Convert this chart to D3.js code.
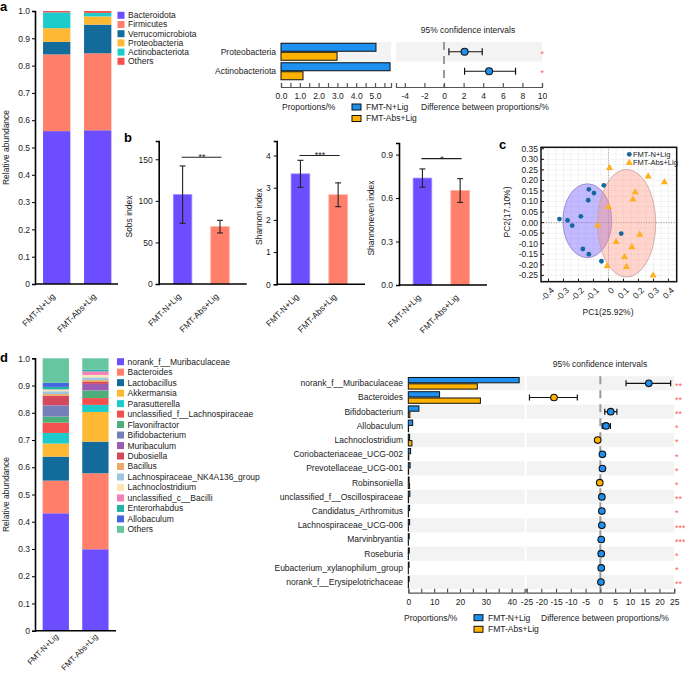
<!DOCTYPE html>
<html><head><meta charset="utf-8">
<script src="https://cdn.jsdelivr.net/npm/d3@7"></script>
<style>
body{margin:0;background:#fff;}
svg{font-family:"Liberation Sans",Arial,Helvetica,sans-serif;}
</style></head><body>
<svg id="c" width="685" height="673"></svg>
<script>
// ================= DATA =================
const groups = ["FMT-N+Lig","FMT-Abs+Lig"];

// a: phylum composition
const phylumNames = ["Bacteroidota","Firmicutes","Verrucomicrobiota","Proteobacteria","Actinobacteriota","Others"];
const phylumColors = ["#6c4dff","#ff7f6a","#136b9c","#ffb834","#1ccbcb","#f4504f"];
const phylumN   = [0.560,0.281,0.046,0.050,0.058,0.005];
const phylumAbs = [0.563,0.282,0.105,0.030,0.013,0.007];

// a: extended error bar
const extA_taxa   = ["Proteobacteria","Actinobacteriota"];
const extA_propN  = [5.05,5.80];
const extA_propAbs= [2.98,1.17];
const extA_diff   = [2.1,4.6];
const extA_lo     = [0.5,2.1];
const extA_hi     = [3.9,7.3];
const extA_sig    = ["*","*"];
const extA_propTicks = [0,0.5,1,1.5,2,2.5,3,3.5,4,4.5,5,5.5];
const extA_propLabels = [0,1,2,3,4,5];
const extA_diffTicks = [-4,-2,0,2,4,6,8,10];

// b: alpha diversity
const sobsMean = [107.5,69.0],  sobsErr = [34.5,7.6];
const shanMean = [3.43,2.78],   shanErr = [0.42,0.37];
const evenMean = [0.738,0.652], evenErr = [0.063,0.082];
const sobsTicks = [0,50,100,150], shanTicks = [0,1,2,3,4], evenTicks = [0,0.3,0.6,0.9];
const sobsSig = {label:"**", level:152.5};
const shanSig = {label:"***", level:4.0};
const evenSig = {label:"*", level:0.872};

// c: PCoA
const pcN_x = [-0.327,-0.273,-0.242,-0.184,-0.131,-0.097,-0.135,-0.031,-0.171,-0.131,-0.047,0.085];
const pcN_y = [0.017,0.011,-0.014,0.030,0.158,0.140,0.106,0.177,-0.125,-0.150,-0.183,-0.052];
const pcA_x = [0.007,0.265,0.373,0.178,0.163,0.000,-0.073,0.209,0.051,0.156,0.107,0.120,-0.009,0.298];
const pcA_y = [0.259,0.219,0.192,0.144,0.110,0.074,-0.013,-0.057,-0.092,-0.116,-0.163,-0.210,-0.206,-0.250];
const ellCx = [-0.141,0.121], ellCy = [0.009,-0.003], ellRx = [0.163,0.194], ellRy = [0.175,0.255];
const pcXTicks = [-0.4,-0.3,-0.2,-0.1,0,0.1,0.2,0.3,0.4];
const pcYTicks = [-0.25,-0.2,-0.15,-0.1,-0.05,0,0.05,0.1,0.15,0.2,0.25,0.3,0.35];

// d: genus composition
const genusNames = ["norank_f__Muribaculaceae","Bacteroides","Lactobacillus","Akkermansia","Parasutterella","unclassified_f__Lachnospiraceae","Flavonifractor","Bifidobacterium","Muribaculum","Dubosiella","Bacillus","Lachnospiraceae_NK4A136_group","Lachnoclostridium","unclassified_c__Bacilli","Enterorhabdus","Allobaculum","Others"];
const genusColors = ["#6c4dff","#ff7f6a","#136b9c","#ffb834","#1ccbcb","#f4504f","#4caf7a","#7580ba","#9b5bb0","#d4485e","#eea86a","#9ec6de","#ffe5b5","#f47fb8","#22b2a6","#4466e0","#66c6a0"];
const genusN   = [0.431,0.120,0.088,0.048,0.039,0.038,0.022,0.040,0.002,0.034,0.007,0.010,0.006,0.001,0.009,0.015,0.090];
const genusAbs = [0.299,0.279,0.116,0.109,0.026,0.025,0.027,0.002,0.023,0.007,0.007,0.010,0.009,0.013,0.005,0.001,0.042];

// d: extended error bar
const extD_taxa = ["norank_f__Muribaculaceae","Bacteroides","Bifidobacterium","Allobaculum","Lachnoclostridium","Coriobacteriaceae_UCG-002","Prevotellaceae_UCG-001","Robinsoniella","unclassified_f__Oscillospiraceae","Candidatus_Arthromitus","Lachnospiraceae_UCG-006","Marvinbryantia","Roseburia","Eubacterium_xylanophilum_group","norank_f__Erysipelotrichaceae"];
const extD_propN   = [42.9,12.1,4.1,1.7,0.5,0.9,0.7,0.3,0.6,0.5,0.5,0.35,0.35,0.3,0.3];
const extD_propAbs = [26.7,27.9,0.6,0.1,1.4,0.2,0.1,0.5,0.1,0.05,0.05,0.05,0.05,0.03,0.05];
const extD_diff = [16.4,-15.7,3.5,1.9,-0.9,0.7,0.7,-0.2,0.5,0.5,0.5,0.3,0.3,0.3,0.2];
const extD_lo   = [8.7,-24.0,1.5,0.6,-1.4,0.3,0.3,-0.5,0.2,0.1,0.2,0.1,0.0,0.0,0.0];
const extD_hi   = [23.8,-7.8,5.6,3.4,-0.3,1.1,1.1,0.1,0.8,0.8,0.8,0.5,0.6,0.6,0.4];
const extD_sig  = ["**","**","**","*","*","*","*","*","**","*","***","***","*","*","**"];
const extD_propTicks = [0,5,10,15,20,25,30,35,40];
const extD_propLabels = [0,10,20,30,40];
const extD_diffTicks = [-25,-20,-15,-10,-5,0,5,10,15,20,25];

// ================= DRAWING =================
const svg = d3.select("#c");
const FS = 8.5;
const TXT = "#222";
const BLUE = "#1e90f0", ORANGE = "#ffb300";
const hy = f => (d => f(d).replace("\u2212","-"));

function txt(g, x, y, s, o={}) {
  const t = g.append("text").attr("x",x).attr("y",y).text(s)
    .attr("font-size",o.fs||FS).attr("fill",o.fill||TXT)
    .attr("text-anchor",o.anchor||"start");
  if (o.bold) t.attr("font-weight","bold");
  if (o.rot!==undefined) t.attr("transform",`rotate(${o.rot},${x},${y})`);
  if (o.dy) t.attr("dy",o.dy);
  return t;
}
function styleAxis(ax, color, width) {
  ax.selectAll("text").attr("font-size",FS).attr("fill",TXT).attr("font-family",null);
  ax.selectAll("line").attr("stroke",color).attr("stroke-width",width||1);
  ax.selectAll("path").attr("stroke",color).attr("stroke-width",width||1);
}
function rotLabels(g, x, yBase, labs, off, fs, dx) {
  labs.forEach(l => {
    const cx = x(l) + x.bandwidth()/2 + dx, cy = yBase + off;
    txt(g, cx, cy, l, {anchor:"end", rot:-45, fs:fs||FS});
  });
}

// panel letters
txt(svg,0,11,"a",{bold:true,fs:13,fill:"#000"});
txt(svg,124,142,"b",{bold:true,fs:13,fill:"#000"});
txt(svg,499,149,"c",{bold:true,fs:13,fill:"#000"});
txt(svg,0,362,"d",{bold:true,fs:13,fill:"#000"});

// ---------- stacked bars (a, d) ----------
function stacked(o) {
  const g = svg.append("g");
  const y = d3.scaleLinear().domain([0,1]).range([o.y0,o.y1]);
  const x = d3.scaleBand().domain(groups).range(o.xr).paddingInner(o.pad).paddingOuter(o.pad/2);
  o.values.forEach((vals,gi) => {
    let cum = 0;
    vals.forEach((v,i) => {
      g.append("rect").attr("x",x(groups[gi])).attr("width",x.bandwidth())
        .attr("y",y(cum+v)).attr("height",Math.max(0,y(cum)-y(cum+v))).attr("fill",o.colors[i]);
      cum += v;
    });
  });
  const ax = g.append("g").attr("transform",`translate(${o.axisX},0)`)
    .call(d3.axisLeft(y).tickValues(d3.range(0,11).map(d=>d/10))
      .tickFormat(d=>d===0?"0":d3.format(".1f")(d)).tickSize(3).tickPadding(2));
  styleAxis(ax,"#000",1);
  ax.select(".domain").attr("stroke-width",1.6);
  g.append("line").attr("x1",o.axisX).attr("x2",o.baseEnd).attr("y1",o.y0).attr("y2",o.y0)
    .attr("stroke","#000").attr("stroke-width",1.6);
  rotLabels(g,x,o.y0,groups,o.labOff,o.labFs,o.labDx);
  txt(g,9,(o.y0+o.y1)/2,"Relative abundance",{anchor:"middle",rot:-90});
  o.names.forEach((n,i) => {
    const yy = o.legY + i*o.legStep;
    g.append("rect").attr("x",o.legX).attr("y",yy-3.5).attr("width",7).attr("height",7).attr("fill",o.colors[i]);
    txt(g,o.legX+10.5,yy,n,{dy:"0.35em"});
  });
}
stacked({values:[phylumN,phylumAbs],colors:phylumColors,names:phylumNames,
  y0:284,y1:11,xr:[36.2,118.2],pad:0.334,axisX:35,baseEnd:118,legX:117.5,legY:15.3,legStep:9.2,labOff:13,labFs:8.5,labDx:-1});
stacked({values:[genusN,genusAbs],colors:genusColors,names:genusNames,
  y0:630.7,y1:358.3,xr:[36,115.2],pad:0.336,axisX:35,baseEnd:116,legX:117,legY:361.7,legStep:10.48,labOff:6.5,labFs:8,labDx:3});

// ---------- extended error bars (a, d) ----------
function extBar(o) {
  const g = svg.append("g");
  const n = o.taxa.length;
  const y = d3.scaleBand().domain(o.taxa).range([o.top, o.top + o.rowH*n]);
  const xp = d3.scaleLinear().domain(o.propDom).range(o.propRange);
  const xd = d3.scaleLinear().domain(o.diffDom).range(o.diffRange);
  o.taxa.forEach((t,i) => {
    if (i%2===0) {
      g.append("rect").attr("x",o.propRange[0]).attr("y",y(t)).attr("width",o.propRange[1]-o.propRange[0])
        .attr("height",y.bandwidth()).attr("fill","#f3f3f3");
      g.append("rect").attr("x",o.diffRange[0]).attr("y",y(t)).attr("width",o.diffRange[1]-o.diffRange[0])
        .attr("height",y.bandwidth()).attr("fill","#f3f3f3");
    }
  });
  o.taxa.forEach(t => txt(g,o.labelX,y(t)+y.bandwidth()/2,t,{anchor:"end",dy:"0.35em"}));
  o.taxa.forEach((t,i) => {
    const c = y(t)+y.bandwidth()/2;
    g.append("rect").attr("x",xp(0)).attr("y",c-o.barH-0.5).attr("width",xp(o.propN[i])-xp(0)).attr("height",o.barH)
      .attr("fill",BLUE).attr("stroke","#111").attr("stroke-width",1);
    g.append("rect").attr("x",xp(0)).attr("y",c+0.5).attr("width",xp(o.propAbs[i])-xp(0)).attr("height",o.barH)
      .attr("fill",ORANGE).attr("stroke","#111").attr("stroke-width",1);
  });
  g.append("line").attr("x1",xd(0)).attr("x2",xd(0)).attr("y1",o.top).attr("y2",o.axisY)
    .attr("stroke","#9a9a9a").attr("stroke-width",2).attr("stroke-dasharray",o.dash);
  o.taxa.forEach((t,i) => {
    const c = y(t)+y.bandwidth()/2;
    const x1 = xd(o.lo[i]), x2 = xd(o.hi[i]);
    g.append("line").attr("x1",x1).attr("x2",x2).attr("y1",c).attr("y2",c).attr("stroke","#111").attr("stroke-width",1.2);
    [x1,x2].forEach(xx => g.append("line").attr("x1",xx).attr("x2",xx).attr("y1",c-o.cap).attr("y2",c+o.cap)
      .attr("stroke","#111").attr("stroke-width",1.2));
    g.append("circle").attr("cx",xd(o.diff[i])).attr("cy",c).attr("r",o.r)
      .attr("fill",o.diff[i]>=0?BLUE:ORANGE).attr("stroke","#111").attr("stroke-width",1.1);
    txt(g,o.sigX,c+5.2,o.sig[i],{fill:"#ff5c5c",fs:9,anchor:"start"});
  });
  const axP = g.append("g").attr("transform",`translate(0,${o.axisY})`)
    .call(d3.axisBottom(xp).tickValues(o.propTicks).tickSize(-4).tickPadding(6)
      .tickFormat(d => o.propLabels.includes(d) ? o.propFmt(d) : ""));
  styleAxis(axP,"#555",1.2);
  const axD = g.append("g").attr("transform",`translate(0,${o.axisY})`)
    .call(d3.axisBottom(xd).tickValues(o.diffTicks).tickSize(-4).tickPadding(6).tickFormat(d => String(d)));
  styleAxis(axD,"#555",1.2);
  txt(g,o.titleX,o.titleY,"95% confidence intervals",{anchor:"middle",dy:"0.35em"});
  txt(g,o.propLabX,o.legY,"Proportions/%",{dy:"0.35em"});
  txt(g,o.diffLabX,o.legY,"Difference between proportions/%",{dy:"0.35em"});
  [[BLUE,groups[0]],[ORANGE,groups[1]]].forEach(([col,lab],i) => {
    const yy = o.legY + i*o.legStep;
    g.append("rect").attr("x",o.legX).attr("y",yy-3).attr("width",9).attr("height",6)
      .attr("fill",col).attr("stroke","#111").attr("stroke-width",1);
    txt(g,o.legX+14,yy,lab,{dy:"0.35em"});
  });
}
extBar({taxa:extA_taxa,propN:extA_propN,propAbs:extA_propAbs,diff:extA_diff,lo:extA_lo,hi:extA_hi,sig:extA_sig,
  top:42,rowH:19.5,barH:8,labelX:276,propDom:[0,5.85],propRange:[281,391],diffDom:[-4.9,10],diffRange:[396,542],
  axisY:87,dash:"8,6",cap:3.5,r:3.5,sigX:540.5,propTicks:extA_propTicks,propLabels:extA_propLabels,propFmt:d3.format(".1f"),
  diffTicks:extA_diffTicks,titleX:468,titleY:30,propLabX:282,diffLabX:421,legY:107,legStep:11.5,legX:352});
extBar({taxa:extD_taxa,propN:extD_propN,propAbs:extD_propAbs,diff:extD_diff,lo:extD_lo,hi:extD_hi,sig:extD_sig,
  top:376.2,rowH:14.2,barH:5.3,labelX:403,propDom:[0,45],propRange:[408.3,524.6],diffDom:[-25,25],diffRange:[526.5,674.2],
  axisY:592.7,dash:"8,6",cap:3,r:3.3,sigX:675,propTicks:extD_propTicks,propLabels:extD_propLabels,propFmt:d3.format("d"),
  diffTicks:extD_diffTicks,titleX:600,titleY:364,propLabX:404,diffLabX:541,legY:617.7,legStep:11.6,legX:474});

// ---------- b: bar charts ----------
function barPanel(o) {
  const g = svg.append("g");
  const y = d3.scaleLinear().domain(o.dom).range([o.y0,o.y1]);
  const x = d3.scaleBand().domain(groups).range(o.xr).paddingInner(0.505).paddingOuter(0.2525);
  const cols = ["#6c4dff","#ff7f6a"];
  groups.forEach((grp,i) => {
    g.append("rect").attr("x",x(grp)).attr("width",x.bandwidth()).attr("y",y(o.mean[i]))
      .attr("height",y(0)-y(o.mean[i])).attr("fill",cols[i])
      .attr("stroke",i===0?"#9c8cff":"#ffb0a2").attr("stroke-width",0.8);
    const cx = x(grp)+x.bandwidth()/2;
    const yt = y(o.mean[i]+o.err[i]), yb = y(o.mean[i]-o.err[i]);
    g.append("line").attr("x1",cx).attr("x2",cx).attr("y1",yt).attr("y2",yb).attr("stroke","#222").attr("stroke-width",1.1);
    [yt,yb].forEach(yy => g.append("line").attr("x1",cx-3).attr("x2",cx+3).attr("y1",yy).attr("y2",yy)
      .attr("stroke","#222").attr("stroke-width",1.1));
  });
  const ax = g.append("g").attr("transform",`translate(${o.axisX},0)`)
    .call(d3.axisLeft(y).tickValues(o.ticks).tickSize(3).tickPadding(3).tickFormat(o.fmt));
  styleAxis(ax,"#000",1);
  ax.select(".domain").attr("stroke-width",1.6);
  g.append("line").attr("x1",o.axisX).attr("x2",o.baseEnd).attr("y1",o.y0).attr("y2",o.y0)
    .attr("stroke","#000").attr("stroke-width",1.6);
  const c1 = x(groups[0])+x.bandwidth()/2, c2 = x(groups[1])+x.bandwidth()/2 + 1.5;
  const ys = y(o.sig.level);
  g.append("line").attr("x1",c1-1).attr("x2",c2).attr("y1",ys).attr("y2",ys).attr("stroke","#222").attr("stroke-width",1.1);
  txt(g,(c1+c2)/2,ys+3,o.sig.label,{anchor:"middle",fs:9});
  rotLabels(g,x,o.y0,groups,13,8.5,-1);
  txt(g,o.labX,(o.y0+o.y1)/2+4,o.label,{anchor:"middle",rot:-90,dy:"0.35em"});
}
barPanel({dom:[0,172],y0:284,y1:141,xr:[163.9,238.7],axisX:158.7,baseEnd:246.7,mean:sobsMean,err:sobsErr,
  ticks:sobsTicks,fmt:d3.format("d"),sig:sobsSig,label:"Sobs index",labX:129});
barPanel({dom:[0,4.45],y0:284.3,y1:141,xr:[281.6,357],axisX:276.7,baseEnd:365,mean:shanMean,err:shanErr,
  ticks:shanTicks,fmt:d3.format("d"),sig:shanSig,label:"Shannon index",labX:259});
barPanel({dom:[0,0.98],y0:285,y1:143,xr:[403.6,479],axisX:399,baseEnd:487,mean:evenMean,err:evenErr,
  ticks:evenTicks,fmt:d3.format(".1f"),sig:evenSig,label:"Shannoneven index",labX:371});

// ---------- c: PCoA ----------
(function(){
  const g = svg.append("g");
  const L=541, R=676.7, T=147.3, B=281.7;
  const x = d3.scaleLinear().domain([-0.45,0.455]).range([L,R]);
  const y = d3.scaleLinear().domain([-0.28,0.357]).range([B,T]);
  d3.range(-0.45,0.46,0.05).forEach(v => g.append("line").attr("x1",x(v)).attr("x2",x(v)).attr("y1",T).attr("y2",B)
    .attr("stroke","#ebebeb").attr("stroke-width",0.6));
  d3.range(-0.275,0.36,0.025).forEach(v => g.append("line").attr("x1",L).attr("x2",R).attr("y1",y(v)).attr("y2",y(v))
    .attr("stroke","#ebebeb").attr("stroke-width",0.6));
  g.append("line").attr("x1",x(0)).attr("x2",x(0)).attr("y1",T).attr("y2",B).attr("stroke","#999").attr("stroke-dasharray","1,1.5");
  g.append("line").attr("x1",L).attr("x2",R).attr("y1",y(0)).attr("y2",y(0)).attr("stroke","#999").attr("stroke-dasharray","1,1.5");
  const ellFill = ["rgba(112,90,255,0.42)","rgba(255,150,130,0.40)"];
  const ellStroke = ["#8a80c0","#c8a0a0"];
  ellCx.forEach((cx,i) => {
    g.append("ellipse").attr("cx",x(cx)).attr("cy",y(ellCy[i]))
      .attr("rx",x(ellRx[i])-x(0)).attr("ry",y(0)-y(ellRy[i]))
      .attr("fill",ellFill[i]).attr("stroke",ellStroke[i]).attr("stroke-width",0.8);
  });
  pcN_x.forEach((v,i) => g.append("circle").attr("cx",x(v)).attr("cy",y(pcN_y[i])).attr("r",2.4).attr("fill","#15689f"));
  const tri = d3.symbol().type(d3.symbolTriangle).size(22);
  pcA_x.forEach((v,i) => g.append("path").attr("d",tri()).attr("transform",`translate(${x(v)},${y(pcA_y[i])})`).attr("fill","#ffb020"));
  g.append("rect").attr("x",L).attr("y",T).attr("width",R-L).attr("height",B-T).attr("fill","none")
    .attr("stroke","#111").attr("stroke-width",1.5);
  const fy = hy(d3.format(".2f")), fx = hy(d3.format(".1f"));
  pcYTicks.forEach(v => {
    g.append("line").attr("x1",L).attr("x2",L+3).attr("y1",y(v)).attr("y2",y(v)).attr("stroke","#111");
    txt(g,L-3,y(v),fy(v),{anchor:"end",dy:"0.35em"});
  });
  pcXTicks.forEach(v => {
    g.append("line").attr("x1",x(v)).attr("x2",x(v)).attr("y1",B).attr("y2",B-3).attr("stroke","#111");
    txt(g,x(v)+4,B+7,v===0?"0":fx(v),{anchor:"end",rot:-45,dy:"0.35em"});
  });
  txt(g,608,312,"PC1(25.92%)",{anchor:"middle",dy:"0.35em"});
  txt(g,507,212,"PC2(17.10%)",{anchor:"middle",rot:-90,dy:"0.35em"});
  g.append("circle").attr("cx",629.3).attr("cy",154.3).attr("r",2.4).attr("fill","#15689f");
  txt(g,633,154.3,groups[0],{fs:7.5,dy:"0.35em"});
  g.append("path").attr("d",tri()).attr("transform","translate(629.3,162.9)").attr("fill","#ffb020");
  txt(g,633,162.7,groups[1],{fs:7.5,dy:"0.35em"});
})();
</script>
</body></html>
